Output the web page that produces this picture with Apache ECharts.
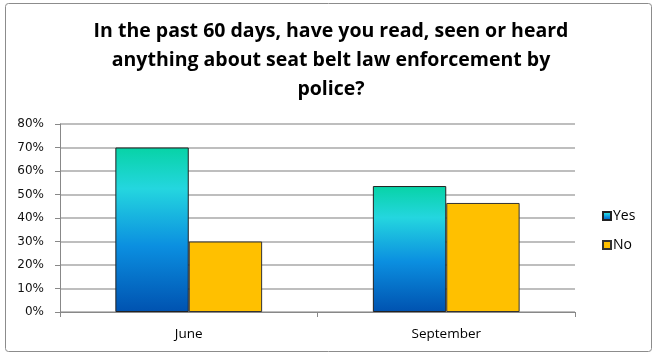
<!DOCTYPE html>
<html><head><meta charset="utf-8">
<script src="https://cdn.jsdelivr.net/npm/echarts@6/dist/echarts.min.js"></script>
<style>html,body{margin:0;padding:0;background:#fff}#c{width:657px;height:356px}</style>
</head><body><div id="c"></div>
<script>
const categories = ['June', 'September'];
const yesValues = [0.70, 0.536];
const noValues = [0.30, 0.464];
const seriesNames = ['Yes', 'No'];
const titleText = 'In the past 60 days, have you read, seen or heard\nanything about seat belt law enforcement by\npolice?';

const font = 'Open Sans, Noto Sans, sans-serif';
const yesGrad = new echarts.graphic.LinearGradient(0, 0, 0, 1, [
  {offset: 0, color: '#07d3a6'},
  {offset: 0.25, color: '#24d6df'},
  {offset: 0.6, color: '#0b8fe0'},
  {offset: 1, color: '#0052b0'}
]);
const chart = echarts.init(document.getElementById('c'));
chart.setOption({
  animation: false,
  title: {
    text: titleText, left: 326, top: 12, textAlign: 'center',
    textStyle: {fontFamily: font, fontWeight: 'bold', fontSize: 19.5, lineHeight: 29, color: '#000'}
  },
  graphic: [{type: 'rect', shape: {x: 5.5, y: 3.5, width: 646, height: 348, r: 3},
    style: {fill: 'none', stroke: '#8c8c8c', lineWidth: 1}, silent: true}],
  legend: {
    orient: 'vertical', left: 597, top: 204, itemWidth: 8, itemHeight: 8, itemGap: 15,
    icon: 'rect',
    textStyle: {fontFamily: font, fontSize: 14, color: '#000', padding: [0,0,0,-3]},
    data: seriesNames
  },
  grid: {left: 60, right: 82, top: 124, bottom: 44},
  xAxis: {
    type: 'category', data: categories,
    axisLine: {lineStyle: {color: '#888'}},
    axisTick: {show: true, length: 5, lineStyle: {color: '#888'}},
    axisLabel: {fontFamily: font, fontSize: 13.5, color: '#000', margin: 15}
  },
  yAxis: {
    type: 'value', min: 0, max: 0.8, interval: 0.1,
    axisLine: {show: true, lineStyle: {color: '#888'}},
    axisTick: {show: true, length: 5, inside: false, lineStyle: {color: '#888'}},
    splitLine: {lineStyle: {color: '#a8a8a8', width: 1.5}},
    axisLabel: {fontFamily: 'DejaVu Sans, sans-serif', fontSize: 12, color: '#111', margin: 16,
      formatter: v => Math.round(v * 100) + '%'}
  },
  series: [
    {name: seriesNames[0], type: 'bar', data: yesValues, barGap: '0%', barCategoryGap: '43%',
     itemStyle: {color: yesGrad, borderColor: '#222', borderWidth: 1}},
    {name: seriesNames[1], type: 'bar', data: noValues,
     itemStyle: {color: '#ffc000', borderColor: '#333', borderWidth: 1}}
  ]
});
</script></body></html>
